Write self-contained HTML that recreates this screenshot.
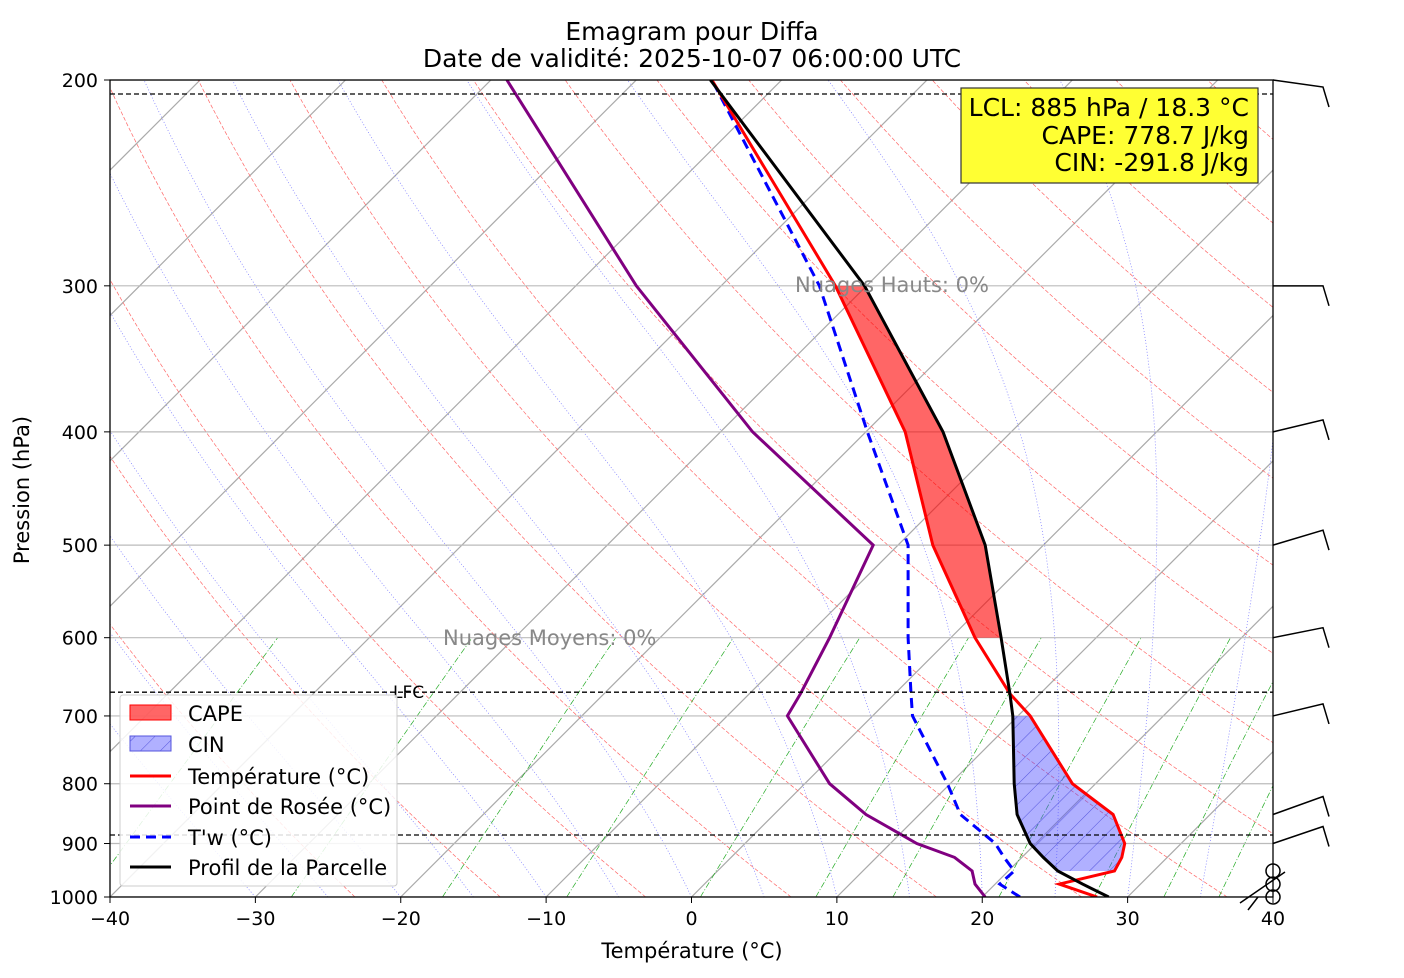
<!DOCTYPE html>
<html><head><meta charset="utf-8"><style>
html,body{margin:0;padding:0;background:#fff;overflow:hidden;width:1404px;height:978px}
svg{display:block}
svg text{font-family:"DejaVu Sans","Liberation Sans",sans-serif}
</style></head><body>
<svg id="chart" style="position:absolute;left:0;top:0" width="1404" height="978" xmlns="http://www.w3.org/2000/svg">
<defs>
<clipPath id="clip"><rect x="110" y="80" width="1163" height="817"/></clipPath>
<pattern id="hatch" width="14" height="14" patternUnits="userSpaceOnUse" patternTransform="rotate(45)">
<rect width="14" height="14" fill="rgba(80,80,255,0.45)"/><line x1="0" y1="0" x2="0" y2="14" stroke="#5555dd" stroke-width="1"/></pattern>
</defs>
<g id="bg" clip-path="url(#clip)"></g>
<g id="fills" clip-path="url(#clip)"></g>
<g id="series" clip-path="url(#clip)"></g>
<g id="axes"></g>
</svg>
<script>
const pressures=[1000,975,950,925,900,850,800,700,670,600,500,400,300,200];
const tempC=[27.9,25.3,29.1,29.6,29.8,29.0,26.2,23.3,21.9,19.5,16.6,14.7,9.9,1.4];
const dewC=[20.2,19.5,19.3,18.1,15.5,12.0,9.5,6.6,7.5,9.5,12.5,4.2,-3.8,-12.7];
const twC=[22.6,21.2,22.2,21.5,20.9,18.5,17.6,15.2,15.1,14.9,14.9,12.1,8.8,1.4];
const parcelC=[28.7,26.9,25.2,24.2,23.3,22.4,22.2,22.1,21.9,21.3,20.2,17.3,11.9,1.3];
const barbLevels=[200,300,400,500,600,700,850,900];
const barbDy=[7,0,-12,-15,-10,-12,-18,-17];
const calmLevels=[950,975,1000];
const xTicks=[-40,-30,-20,-10,0,10,20,30,40];
const yTicks=[200,300,400,500,600,700,800,900,1000];
const NS="http://www.w3.org/2000/svg";
const X=t=>110+(t+40)*1163/80;
const Y=p=>80+Math.log(p/200)/Math.log(5)*817;
const SX=(t,p)=>X(t)+(897-Y(p));
function el(tag,attrs,parent,txt){const e=document.createElementNS(NS,tag);for(const k in attrs)e.setAttribute(k,attrs[k]);if(txt!==undefined)e.textContent=txt;parent.appendChild(e);return e;}
const bg=document.getElementById('bg'),fills=document.getElementById('fills'),ser=document.getElementById('series'),ax=document.getElementById('axes');
for(let t=-140;t<=50;t+=10){const l=el('line',{x1:X(t),y1:897,x2:X(t)+1000,y2:-103,stroke:'#aaa','stroke-width':1.2},bg);
}
for(let th=250;th<=460;th+=10){let d='';for(let p=1000;p>=200;p-=10){const T=th*Math.pow(p/1000,0.286)-273.15;d+=(d?'L':'M')+SX(T,p).toFixed(1)+','+Y(p).toFixed(1);}
const l=el('path',{d:d,fill:'none',stroke:'#f66','stroke-width':0.7,'stroke-dasharray':'4,2'},bg);}
function es(T){return 6.112*Math.exp(17.67*T/(T+243.5));}
for(let T0=-30;T0<=45;T0+=5){let T=T0,d='M'+SX(T,1000)+','+Y(1000);for(let p=1000;p>200;p-=5){const Tk=T+273.15,rs=0.622*es(T)/(p-es(T));const g=(0.2857*Tk+2.5e6*rs/1004)/(p*(1+2.5e6*2.5e6*rs*0.622/(1004*287*Tk*Tk)));T-=g*5;d+='L'+SX(T,p-5).toFixed(1)+','+Y(p-5).toFixed(1);}
const l=el('path',{d:d,fill:'none',stroke:'#77f','stroke-width':0.7,'stroke-dasharray':'1,2'},bg);}
[0.1,0.4,1,2,4,7,10,16,24,32,40].forEach(w=>{let d='';for(let p=1000;p>=600;p-=20){const e=w*p/(622+w),a=Math.log(e/6.112),T=243.5*a/(17.67-a);d+=(d?'L':'M')+SX(T,p).toFixed(1)+','+Y(p).toFixed(1);}
const l=el('path',{d:d,fill:'none',stroke:'#2a2','stroke-width':0.7,'stroke-dasharray':'6,2,1,2'},bg);});
yTicks.forEach(p=>{const l=el('line',{x1:110,y1:Y(p),x2:1273,y2:Y(p),stroke:'#bbb','stroke-width':1.2},bg);});
function band(i0,i1){let d='';for(let i=i0;i<=i1;i++)d+=(d?'L':'M')+X(tempC[i])+','+Y(pressures[i]);for(let i=i1;i>=i0;i--)d+='L'+X(parcelC[i])+','+Y(pressures[i]);return d+'Z';}
const cape=el('path',{d:band(9,12),fill:'rgba(255,0,0,0.6)',stroke:'none'},fills);
const cin=el('path',{d:band(2,7),fill:'url(#hatch)',stroke:'none'},fills);
function line(arr,color,w,dash,name){let d='';arr.forEach((t,i)=>{d+=(d?'L':'M')+X(t).toFixed(1)+','+Y(pressures[i]).toFixed(1);});const a={d:d,fill:'none',stroke:color,'stroke-width':w};if(dash)a['stroke-dasharray']=dash;const l=el('path',a,ser);}
line(dewC,'purple',3,null,'dewpoint-line');
line(twC,'blue',3,'10,6','wetbulb-line');
line(tempC,'red',3,null,'temperature-line');
line(parcelC,'black',3,null,'parcel-line');
[[205.6,'EL'],[668,'LFC'],[885,'']].forEach(([p,t])=>{const l=el('line',{x1:110,y1:Y(p),x2:1273,y2:Y(p),stroke:'#000','stroke-width':1.3,'stroke-dasharray':'5,3'},ax);
if(t==='LFC'){const tx=el('text',{x:393,y:Y(p)+6,'font-size':17},ax,t);}});
const fr=el('rect',{x:110,y:80,width:1163,height:817,fill:'none',stroke:'#000','stroke-width':1.3},ax);
xTicks.forEach(t=>{el('line',{x1:X(t),y1:897,x2:X(t),y2:903,stroke:'#000'},ax);const tx=el('text',{x:X(t),y:925,'font-size':19,'text-anchor':'middle'},ax,t<0?'\u2212'+(-t):t);});
yTicks.forEach(p=>{el('line',{x1:104,y1:Y(p),x2:110,y2:Y(p),stroke:'#000'},ax);const tx=el('text',{x:98,y:Y(p)+7,'font-size':19,'text-anchor':'end'},ax,p);});
barbLevels.forEach((p,i)=>{const y=Y(p),dy=barbDy[i];const ex=1323,ey=y+dy;const g=el('path',{d:`M1273,${y}L${ex},${ey}L${ex+6},${ey+20}`,fill:'none',stroke:'#000','stroke-width':1.5},ax);});
calmLevels.forEach(p=>{const c=el('circle',{cx:1273,cy:Y(p),r:7,fill:'none',stroke:'#000','stroke-width':1.5},ax);});
el('path',{d:'M1240,903L1285,872M1248,910L1258,897',fill:'none',stroke:'#000','stroke-width':1.5},ax);
</script>
<svg style="position:absolute;left:0;top:0" width="1404" height="978">
<text x="692" y="40" font-size="25" text-anchor="middle">Emagram pour Diffa</text>
<text x="692" y="67" font-size="25" text-anchor="middle">Date de validité: 2025-10-07 06:00:00 UTC</text>
<text x="692" y="958" font-size="21" text-anchor="middle">Température (°C)</text>
<text x="29" y="490" font-size="21" text-anchor="middle" transform="rotate(-90 29 490)">Pression (hPa)</text>
<text x="795" y="292" font-size="21" fill="#888">Nuages Hauts: 0%</text>
<text x="443" y="645" font-size="21" fill="#888">Nuages Moyens: 0%</text>
<g>
<rect x="961" y="88" width="297" height="95" fill="#ffff33" stroke="#333" stroke-width="1.2"/>
<text x="1249" y="116" font-size="25" text-anchor="end">LCL: 885 hPa / 18.3 °C</text>
<text x="1249" y="144" font-size="25" text-anchor="end">CAPE: 778.7 J/kg</text>
<text x="1249" y="171" font-size="25" text-anchor="end">CIN: -291.8 J/kg</text>
</g>
<g>
<rect x="120" y="695" width="277" height="191" fill="#fff" fill-opacity="0.85" stroke="#ccc" rx="3"/>
<rect x="130" y="705" width="41" height="15" fill="rgba(255,0,0,0.6)" stroke="red"/>
<text x="188" y="721" font-size="21">CAPE</text>
<rect x="130" y="736" width="41" height="15" fill="url(#hatch)" stroke="#55d"/>
<text x="188" y="752" font-size="21">CIN</text>
<line x1="130" y1="776" x2="171" y2="776" stroke="red" stroke-width="3"/>
<text x="188" y="784" font-size="21">Température (°C)</text>
<line x1="130" y1="806" x2="171" y2="806" stroke="purple" stroke-width="3"/>
<text x="188" y="814" font-size="21">Point de Rosée (°C)</text>
<line x1="130" y1="837" x2="171" y2="837" stroke="blue" stroke-width="3" stroke-dasharray="10,6"/>
<text x="188" y="845" font-size="21">T'w (°C)</text>
<line x1="130" y1="867" x2="171" y2="867" stroke="black" stroke-width="3"/>
<text x="188" y="875" font-size="21">Profil de la Parcelle</text>
</g>
</svg>
</body></html>
